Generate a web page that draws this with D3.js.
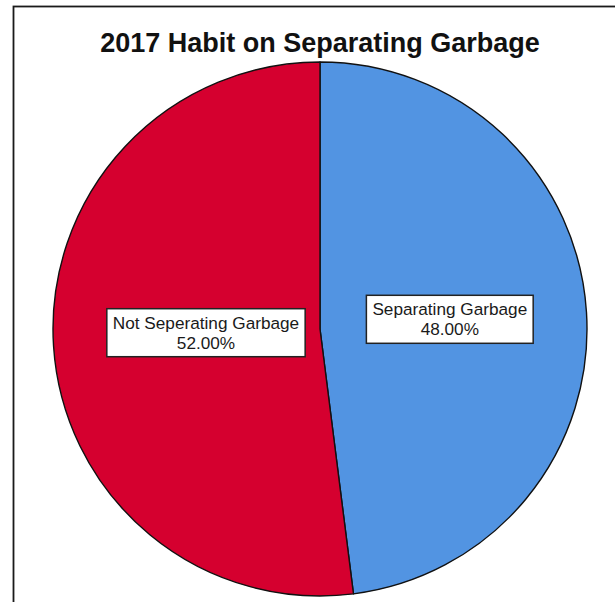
<!DOCTYPE html>
<html>
<head>
<meta charset="utf-8">
<script src="https://cdn.jsdelivr.net/npm/d3@7"></script>
<style>
  html, body { margin: 0; padding: 0; background: #fff; }
  svg { display: block; font-family: "Liberation Sans", Arial, sans-serif; }
</style>
</head>
<body>
<svg id="chart" width="615" height="602"></svg>
<script>
// Survey shares for 2017 garbage-separating habit
const titleText = "2017 Habit on Separating Garbage";
const categories = ["Separating Garbage", "Not Seperating Garbage"];
const values = [48, 52];
const sliceColors = ["#5294e2", "#d5002f"];

const width = 615, height = 602;
const cx = 320, cy = 329, radius = 267;

const svg = d3.select("#chart");

// outer frame (runs past the right and bottom edges)
svg.append("rect")
  .attr("x", 13.5).attr("y", 6.5)
  .attr("width", width + 20).attr("height", height + 20)
  .attr("fill", "#fff")
  .attr("stroke", "#1a1a1a")
  .attr("stroke-width", 1.8);

svg.append("text")
  .attr("x", cx).attr("y", 52)
  .attr("text-anchor", "middle")
  .attr("font-size", 27)
  .attr("font-weight", "bold")
  .attr("fill", "#111")
  .text(titleText);

const data = categories.map((c, i) => ({ name: c, value: values[i], color: sliceColors[i] }));

const pie = d3.pie().sort(null).value(d => d.value);
const arcs = pie(data);
const arc = d3.arc().innerRadius(0).outerRadius(radius);

const g = svg.append("g").attr("transform", `translate(${cx},${cy})`);

g.selectAll("path.slice")
  .data(arcs)
  .join("path")
  .attr("class", "slice")
  .attr("d", arc)
  .attr("fill", d => d.data.color)
  .attr("stroke", "#111")
  .attr("stroke-width", 1.4)
  .attr("stroke-linejoin", "round");

// labels: box outer edge sits at 0.8r along the slice's mid angle
const fmt = d3.format(".2f");
const fontSize = 17.2;
const lineGap = 20;

arcs.forEach(d => {
  const mid = (d.startAngle + d.endAngle) / 2;
  const sx = Math.sin(mid), sy = -Math.cos(mid);
  const lines = [d.data.name, fmt(d.value / d3.sum(values) * 100) + "%"];

  const lg = g.append("g");
  lg.selectAll("text")
    .data(lines)
    .join("text")
    .attr("text-anchor", "middle")
    .attr("font-size", fontSize)
    .attr("fill", "#1a1a1a")
    .attr("x", 0)
    .attr("y", (t, i) => i * lineGap)
    .text(t => t);

  const bb = lg.node().getBBox();
  const padX = 6, padY = 4;
  const bw = bb.width + padX * 2, bh = bb.height + padY * 2;

  const outerX = sx * radius * 0.8;
  const boxCx = outerX - Math.sign(sx) * bw / 2;
  const boxCy = sy * radius * 0.4 - 3;

  lg.insert("rect", "text")
    .attr("x", bb.x - padX).attr("y", bb.y - padY)
    .attr("width", bw).attr("height", bh)
    .attr("fill", "#fff")
    .attr("stroke", "#222")
    .attr("stroke-width", 1.5);

  const tx = boxCx - (bb.x + bb.width / 2);
  const ty = boxCy - (bb.y + bb.height / 2);
  lg.attr("transform", `translate(${tx},${ty})`);
});
</script>
</body>
</html>
